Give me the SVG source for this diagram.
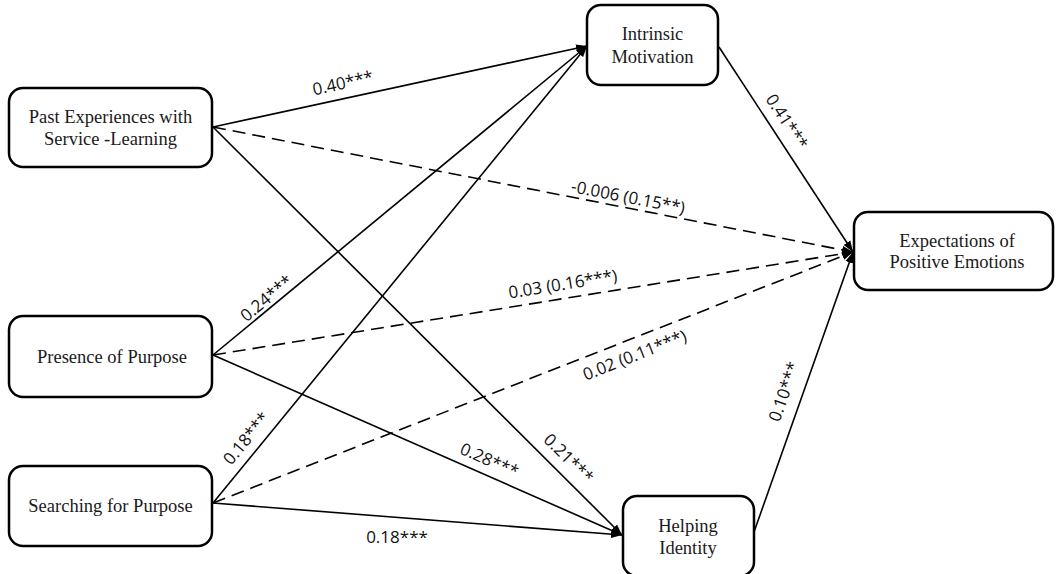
<svg xmlns="http://www.w3.org/2000/svg" width="1056" height="574" viewBox="0 0 1056 574">
<defs>
<style>
.box{fill:#fff;stroke:#000;stroke-width:2.5}
.nt{font-family:"Liberation Serif","Times New Roman",serif;font-size:18.5px;fill:#1a1a1a;text-anchor:middle}
.ln{stroke:#000;stroke-width:1.6;fill:none}
.ds{stroke-dasharray:13 7}
.lb{font-family:"Open Sans","Liberation Sans",sans-serif;font-size:17px;fill:#111;text-anchor:middle}
</style>
<marker id="ah" markerUnits="userSpaceOnUse" markerWidth="12" markerHeight="10" refX="11" refY="5" orient="auto">
<path d="M0,1 L11,5 L0,9 Z" fill="#000"/>
</marker>
</defs>
<rect width="1056" height="574" fill="#fff"/>
<g id="connectors">
<line class="ln" x1="213" y1="127" x2="587" y2="46" marker-end="url(#ah)"/>
<line class="ln ds" x1="213" y1="127" x2="853" y2="252" marker-end="url(#ah)"/>
<line class="ln" x1="213" y1="127" x2="622" y2="535" marker-end="url(#ah)"/>
<line class="ln" x1="213" y1="355" x2="587" y2="46" marker-end="url(#ah)"/>
<line class="ln ds" x1="213" y1="355" x2="853" y2="252" marker-end="url(#ah)"/>
<line class="ln" x1="213" y1="355" x2="622" y2="535" marker-end="url(#ah)"/>
<line class="ln" x1="213" y1="503" x2="587" y2="46" marker-end="url(#ah)"/>
<line class="ln ds" x1="213" y1="503" x2="853" y2="252" marker-end="url(#ah)"/>
<line class="ln" x1="213" y1="503" x2="622" y2="535" marker-end="url(#ah)"/>
<line class="ln" x1="719" y1="47" x2="853" y2="252" marker-end="url(#ah)"/>
<line class="ln" x1="754" y1="532" x2="853" y2="252" marker-end="url(#ah)"/>
<g id="labels">
<text class="lb" transform="translate(343,84) rotate(-12.2)" y="5">0.40***</text>
<text class="lb" transform="translate(628,198) rotate(11.05)" y="5">-0.006 (0.15**)</text>
<text class="lb" transform="translate(563,285) rotate(-9.1)" y="5">0.03 (0.16***)</text>
<text class="lb" transform="translate(635,356) rotate(-21.4)" y="5">0.02 (0.11***)</text>
<text class="lb" transform="translate(267,299) rotate(-39.6)" y="5">0.24***</text>
<text class="lb" transform="translate(247,439) rotate(-50.7)" y="5">0.18***</text>
<text class="lb" transform="translate(786,122) rotate(56.8)" y="5">0.41***</text>
<text class="lb" transform="translate(785,392) rotate(-70.8)" y="5">0.10***</text>
<text class="lb" transform="translate(489,461) rotate(23.75)" y="5">0.28***</text>
<text class="lb" transform="translate(568,459) rotate(44.9)" y="5">0.21***</text>
<text class="lb" x="397" y="543">0.18***</text>
</g>
</g>
<g id="past">
<rect class="box" x="9" y="88" width="203" height="79" rx="14"/>
<text class="nt" x="110.5" y="123">Past Experiences with</text>
<text class="nt" x="110.5" y="145">Service -Learning</text>
</g>
<g id="presence">
<rect class="box" x="9" y="316" width="203" height="81" rx="14"/>
<text class="nt" x="112" y="363">Presence of Purpose</text>
</g>
<g id="searching">
<rect class="box" x="9" y="466" width="203" height="80" rx="14"/>
<text class="nt" x="110.5" y="512">Searching for Purpose</text>
</g>
<g id="intrinsic">
<rect class="box" x="587" y="5" width="131" height="80" rx="14"/>
<text class="nt" x="652.5" y="40">Intrinsic</text>
<text class="nt" x="652.5" y="63">Motivation</text>
</g>
<g id="expectations">
<rect class="box" x="854" y="212" width="199" height="78" rx="14"/>
<text class="nt" x="957" y="247">Expectations of</text>
<text class="nt" x="957" y="268">Positive Emotions</text>
</g>
<g id="helping">
<rect class="box" x="623" y="496" width="131" height="80" rx="14"/>
<text class="nt" x="688" y="532">Helping</text>
<text class="nt" x="688" y="554">Identity</text>
</g>
</svg>
